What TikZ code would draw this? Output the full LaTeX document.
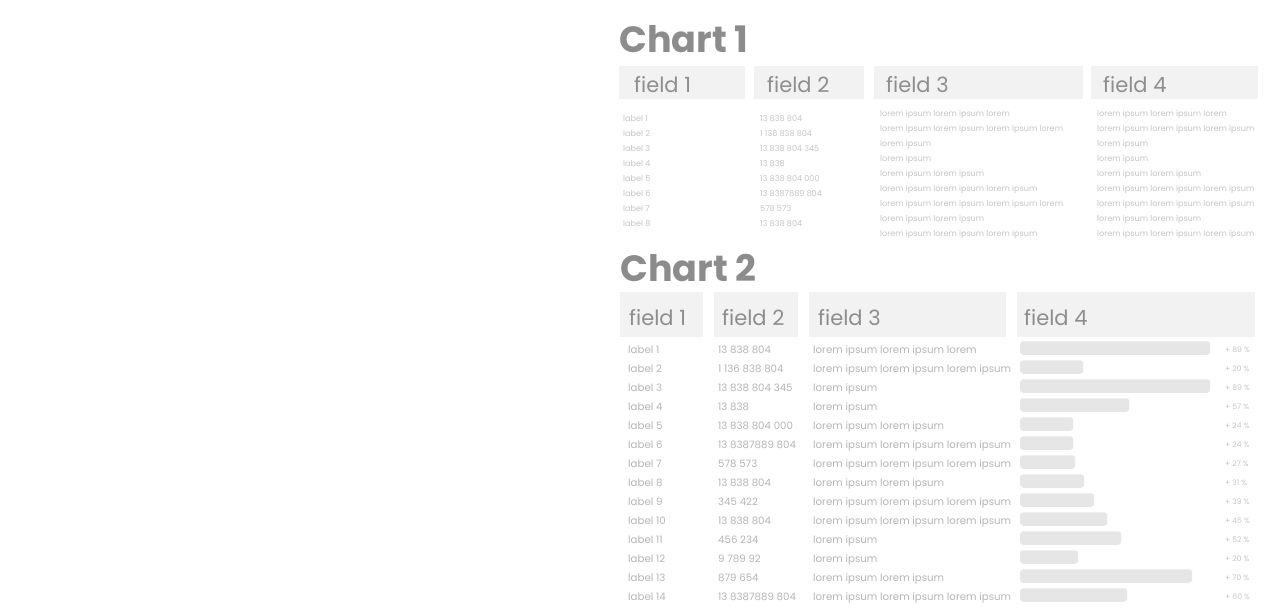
\documentclass[tikz,border=0pt]{standalone}
\usepackage{fontspec}
\setmainfont{Poppins}
\usetikzlibrary{positioning}

\definecolor{gristitulo}{HTML}{8C8C8C}
\definecolor{grisfondo}{HTML}{F2F2F2}
\definecolor{griscampo}{HTML}{8E8E8E}
\definecolor{grisdato}{HTML}{C6C6C6}
\definecolor{grisfila}{HTML}{B6B6B6}
\definecolor{grisbarra}{HTML}{E6E6E6}

\begin{document}
\begin{tikzpicture}[x=1pt, y=-1pt,
    titulo/.style={anchor=base west, inner sep=0pt, text=gristitulo,
      font=\fontsize{36.5}{36.5}\selectfont\bfseries},
    caja/.style={anchor=north west, fill=grisfondo, inner sep=0pt},
    campo/.style={anchor=base west, inner sep=0pt, text=griscampo,
      font=\fontsize{21}{21}\selectfont},
    dato/.style={anchor=base west, inner sep=0pt, text=grisdato,
      font=\fontsize{8.1}{8.1}\selectfont},
    fila/.style={anchor=base west, inner sep=0pt, text=grisfila,
      font=\fontsize{10.2}{10.2}\selectfont},
    pct/.style={anchor=base west, inner sep=0pt, text=grisdato,
      font=\fontsize{7.6}{7.6}\selectfont},
    barra/.style={anchor=west, fill=grisbarra, rounded corners=3pt,
      minimum height=13.5, inner sep=0pt}]

  % Fondo y margenes de la figura.
  \path[fill=white, use as bounding box] (0,0) rectangle (1269,612);

  % Primera tabla: titulo y cabeceras.
  \node[titulo] (t1) at (619,53) {Chart 1};
  \node[caja, minimum width=126, minimum height=33] (c1f1) at (619,66) {};
  \node[caja, minimum width=110, minimum height=33] (c1f2) at (754,66) {};
  \node[caja, minimum width=209, minimum height=33] (c1f3) at (874,66) {};
  \node[caja, minimum width=167, minimum height=33] (c1f4) at (1091,66) {};
  \node[campo] (c1t1) at (634,92.5) {field 1};
  \node[campo] (c1t2) at (767,92.5) {field 2};
  \node[campo] (c1t3) at (886,92.5) {field 3};
  \node[campo] (c1t4) at (1103,92.5) {field 4};

  % Primera tabla: filas.
  \foreach \i/\v in {1/13 838 804, 2/1 136 838 804, 3/13 838 804 345,
      4/13 838, 5/13 838 804 000, 6/13 8387889 804, 7/578 573, 8/13 838 804} {
    \pgfmathsetmacro\yb{122+15*(\i-1)}
    \node[dato] (a\i) at (623,\yb) {label \i};
    \node[dato] (b\i) at (760,\yb) {\v};
  }
  \foreach \j/\p/\q in {
      1/lorem ipsum lorem ipsum lorem/lorem ipsum lorem ipsum lorem,
      2/lorem ipsum lorem ipsum lorem ipsum lorem/lorem ipsum lorem ipsum lorem ipsum,
      3/lorem ipsum/lorem ipsum,
      4/lorem ipsum/lorem ipsum,
      5/lorem ipsum lorem ipsum/lorem ipsum lorem ipsum,
      6/lorem ipsum lorem ipsum lorem ipsum/lorem ipsum lorem ipsum lorem ipsum,
      7/lorem ipsum lorem ipsum lorem ipsum lorem/lorem ipsum lorem ipsum lorem ipsum,
      8/lorem ipsum lorem ipsum/lorem ipsum lorem ipsum,
      9/lorem ipsum lorem ipsum lorem ipsum/lorem ipsum lorem ipsum lorem ipsum} {
    \pgfmathsetmacro\yb{117+15*(\j-1)}
    \node[dato] (c\j) at (880,\yb) {\p};
    \node[dato] (d\j) at (1097,\yb) {\q};
  }

  % Segunda tabla: titulo y cabeceras.
  \node[titulo] (t2) at (620,282) {Chart 2};
  \node[caja, minimum width=83, minimum height=45] (c2f1) at (620,292) {};
  \node[caja, minimum width=84, minimum height=45] (c2f2) at (714,292) {};
  \node[caja, minimum width=197, minimum height=45] (c2f3) at (809,292) {};
  \node[caja, minimum width=238, minimum height=45] (c2f4) at (1017,292) {};
  \node[campo] (c2t1) at (629,326) {field 1};
  \node[campo] (c2t2) at (722,326) {field 2};
  \node[campo] (c2t3) at (818,326) {field 3};
  \node[campo] (c2t4) at (1024,326) {field 4};

  % Segunda tabla: filas con barras.
  \foreach \i/\v/\t/\w/\p in {
      1/13 838 804/lorem ipsum lorem ipsum lorem/190/89,
      2/1 136 838 804/lorem ipsum lorem ipsum lorem ipsum/63/20,
      3/13 838 804 345/lorem ipsum/190/89,
      4/13 838/lorem ipsum/109/57,
      5/13 838 804 000/lorem ipsum lorem ipsum/53/24,
      6/13 8387889 804/lorem ipsum lorem ipsum lorem ipsum/53/24,
      7/578 573/lorem ipsum lorem ipsum lorem ipsum/55/27,
      8/13 838 804/lorem ipsum lorem ipsum/64/31,
      9/345 422/lorem ipsum lorem ipsum lorem ipsum/74/39,
      10/13 838 804/lorem ipsum lorem ipsum lorem ipsum/87/45,
      11/456 234/lorem ipsum/101/52,
      12/9 789 92/lorem ipsum/58/20,
      13/879 654/lorem ipsum lorem ipsum/172/70,
      14/13 8387889 804/lorem ipsum lorem ipsum lorem ipsum/107/60} {
    \pgfmathsetmacro\yc{349.5+19*(\i-1)}
    \pgfmathsetmacro\yb{\yc+3.6}
    \node[fila] (e\i) at (628,\yb) {label \i};
    \node[fila] (f\i) at (718,\yb) {\v};
    \node[fila] (g\i) at (813,\yb) {\t};
    \node[barra, minimum width=\w] (h\i) at (1020,\yc-1.5) {};
    \node[pct] (k\i) at (1225,\yb-0.8) {+ \p\ \%};
  }
\end{tikzpicture}
\end{document}
